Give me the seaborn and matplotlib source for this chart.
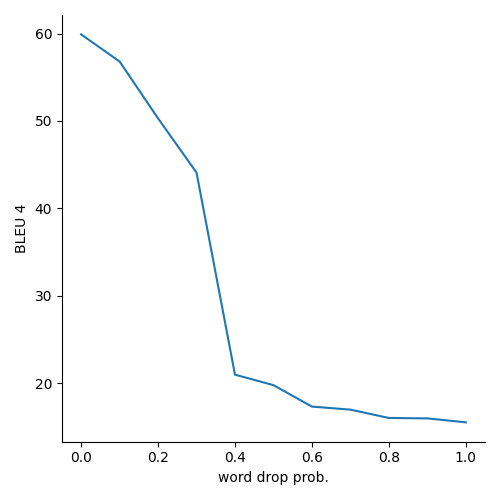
import matplotlib
matplotlib.use("Agg")
import seaborn as sns
import pandas as pd
import matplotlib.pyplot as plt

drop_prob = [0.0, 0.1, 0.2, 0.3, 0.4, 0.5, 0.6, 0.7, 0.8, 0.9, 1.0]
bleu4 = [59.9, 56.8, 50.3, 44.1, 21.0, 19.8, 17.35, 17.0, 16.05, 16.0, 15.55]

df = pd.DataFrame({"word drop prob.": drop_prob, "BLEU 4": bleu4})
g = sns.relplot(data=df, x="word drop prob.", y="BLEU 4", kind="line", height=5, aspect=1)
g.figure.savefig("out.png", dpi=100)
